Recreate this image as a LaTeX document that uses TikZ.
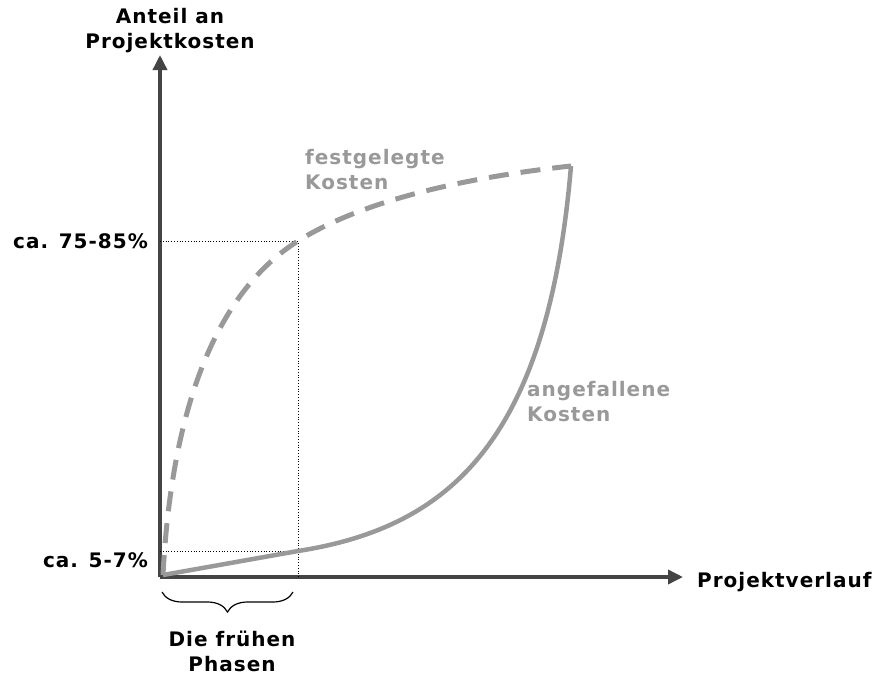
\documentclass[tikz,border=0pt]{standalone}
\usepackage{fontspec}
\setmainfont{DejaVu Sans}
\usetikzlibrary{arrows.meta,positioning,decorations.pathreplacing}
\definecolor{axisgray}{HTML}{444444}
\definecolor{curvegray}{HTML}{999999}
\tikzset{%
  >={Triangle[width=14pt,length=15pt]},
  % Specifications for style of lines and texts:
         axisline/.style = {draw=axisgray, line width=3.5pt, ->},
              txt/.style = {font=\fontsize{20}{25}\selectfont\bfseries\addfontfeature{LetterSpace=5},
                            inner sep=0pt, align=center},
          graytxt/.style = {txt, text=curvegray, align=left},
            guide/.style = {draw=black, line width=0.8pt, dotted},
          planned/.style = {draw=curvegray, line width=5pt, dash pattern=on 20pt off 12pt},
         incurred/.style = {draw=curvegray, line width=4.5pt},
}

\begin{document}
\begin{tikzpicture}[x=1pt, y=-1pt]
\useasboundingbox (0,0) rectangle (876,675);

\coordinate (O)     at (160,577);
\coordinate (S)     at (163,575);
\coordinate (Ytop)  at (160,55);
\coordinate (Xend)  at (683,577);
\coordinate (E)     at (571,166);
\coordinate (Hi)    at (298,241);
\coordinate (Lo)    at (298,551);

% axes
\draw[axisline] (O) -- (Ytop);
\draw[axisline] (O) -- (Xend);

\node (Ylabel) [txt, anchor=north]      at (170,8)   {Anteil an\\Projektkosten};
\node (Xlabel) [txt, anchor=base west]  at (697,587) {Projektverlauf};
\node (HiLab)  [txt, anchor=base east]  at (148,248) {ca. 75-85\%};
\node (LoLab)  [txt, anchor=base east]  at (148,567) {ca. 5-7\%};

% guides
\draw[guide] (O |- Hi) -- (Hi) -- (Hi |- O);
\draw[guide] (O |- Lo) -- (Lo);

% curves
\draw[planned] (S) .. controls (172,400) and (220,290) .. (Hi)
                   .. controls (360,202) and (460,178) .. (E);
\draw[incurred] (S) -- (Lo) .. controls (452,527) and (548,438) .. (E);

\node (Planned)  [graytxt, anchor=north west] at (305,149) {festgelegte\\Kosten};
\node (Incurred) [graytxt, anchor=north west] at (527,381) {angefallene\\Kosten};

% early phases
\coordinate (Bl) at (162,592);
\coordinate (Br) at (293,592);
\draw[line width=1.2pt, decorate, decoration={brace, amplitude=20pt}] (Br) -- (Bl);
\node (Early) [txt, anchor=north] at (232,631) {Die frühen\\Phasen};
\end{tikzpicture}
\end{document}
